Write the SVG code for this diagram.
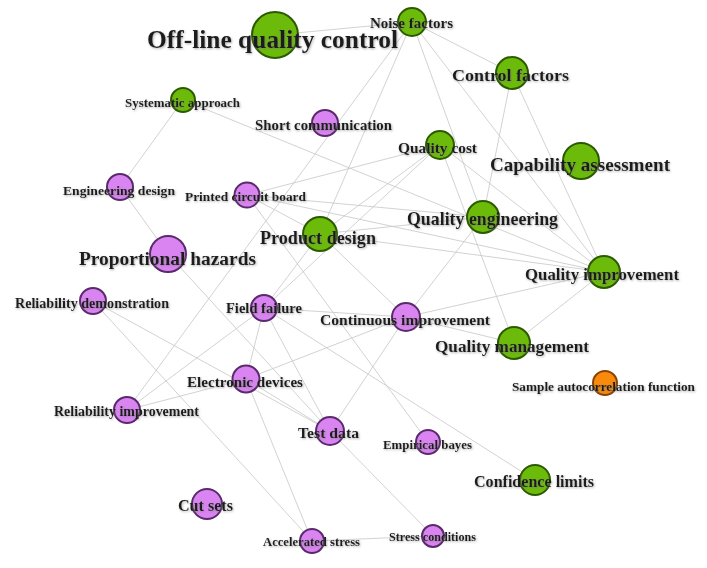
<svg xmlns="http://www.w3.org/2000/svg" width="707" height="568" viewBox="0 0 707 568">
<defs>
<filter id="sh" x="-10%" y="-30%" width="120%" height="160%">
<feDropShadow dx="0.8" dy="1" stdDeviation="0.9" flood-color="#777" flood-opacity="0.6"/>
</filter>
<style>
.e{stroke:#c6c6c6;stroke-width:0.8;fill:none}
.g{fill:#6cbb0a;stroke:#2c5a00;stroke-width:2}
.p{fill:#da84f2;stroke:#5a2a6c;stroke-width:2}
.o{fill:#f98a0c;stroke:#8a4200;stroke-width:2}
text{font-family:"Liberation Serif","Times New Roman",serif;font-weight:bold;fill:#1e1e1e;filter:url(#sh)}
</style>
</defs>
<rect width="707" height="568" fill="#fff"/>
<g id="edges">
<line class="e" x1="275" y1="35" x2="412" y2="22"/>
<line class="e" x1="412" y1="22" x2="512" y2="73"/>
<line class="e" x1="412" y1="22" x2="604" y2="272"/>
<line class="e" x1="412" y1="22" x2="483" y2="217"/>
<line class="e" x1="412" y1="22" x2="320" y2="234"/>
<line class="e" x1="412" y1="22" x2="127" y2="410"/>
<line class="e" x1="512" y1="73" x2="483" y2="217"/>
<line class="e" x1="512" y1="73" x2="604" y2="272"/>
<line class="e" x1="440" y1="145" x2="604" y2="272"/>
<line class="e" x1="440" y1="145" x2="514" y2="343"/>
<line class="e" x1="440" y1="145" x2="247" y2="195"/>
<line class="e" x1="440" y1="145" x2="320" y2="234"/>
<line class="e" x1="440" y1="145" x2="264" y2="308"/>
<line class="e" x1="183" y1="100" x2="120" y2="187"/>
<line class="e" x1="183" y1="100" x2="604" y2="272"/>
<line class="e" x1="120" y1="187" x2="168" y2="254"/>
<line class="e" x1="247" y1="195" x2="483" y2="217"/>
<line class="e" x1="247" y1="195" x2="604" y2="272"/>
<line class="e" x1="247" y1="195" x2="320" y2="234"/>
<line class="e" x1="247" y1="195" x2="428" y2="442"/>
<line class="e" x1="320" y1="234" x2="483" y2="217"/>
<line class="e" x1="320" y1="234" x2="604" y2="272"/>
<line class="e" x1="320" y1="234" x2="406" y2="317"/>
<line class="e" x1="320" y1="234" x2="264" y2="308"/>
<line class="e" x1="406" y1="317" x2="483" y2="217"/>
<line class="e" x1="406" y1="317" x2="604" y2="272"/>
<line class="e" x1="406" y1="317" x2="514" y2="343"/>
<line class="e" x1="406" y1="317" x2="264" y2="308"/>
<line class="e" x1="406" y1="317" x2="246" y2="379"/>
<line class="e" x1="406" y1="317" x2="330" y2="431"/>
<line class="e" x1="604" y1="272" x2="514" y2="343"/>
<line class="e" x1="264" y1="308" x2="246" y2="379"/>
<line class="e" x1="264" y1="308" x2="330" y2="431"/>
<line class="e" x1="264" y1="308" x2="535" y2="480"/>
<line class="e" x1="264" y1="308" x2="127" y2="410"/>
<line class="e" x1="127" y1="410" x2="246" y2="379"/>
<line class="e" x1="93" y1="301" x2="330" y2="431"/>
<line class="e" x1="93" y1="301" x2="312" y2="541"/>
<line class="e" x1="168" y1="254" x2="330" y2="431"/>
<line class="e" x1="246" y1="379" x2="330" y2="431"/>
<line class="e" x1="246" y1="379" x2="312" y2="541"/>
<line class="e" x1="330" y1="431" x2="433" y2="536"/>
<line class="e" x1="312" y1="541" x2="433" y2="536"/>
</g>
<g id="n-offline"><circle class="g" cx="275" cy="35" r="23"/><text x="147" y="48" font-size="25" textLength="251" lengthAdjust="spacingAndGlyphs">Off-line quality control</text></g>
<g id="n-noise"><circle class="g" cx="412" cy="22" r="14"/><text x="370" y="28" font-size="15" textLength="83" lengthAdjust="spacingAndGlyphs">Noise factors</text></g>
<g id="n-control"><circle class="g" cx="512" cy="73" r="16"/><text x="452" y="81" font-size="17.5" textLength="117" lengthAdjust="spacingAndGlyphs">Control factors</text></g>
<g id="n-capability"><circle class="g" cx="581" cy="161" r="18"/><text x="490" y="171" font-size="19" textLength="180" lengthAdjust="spacingAndGlyphs">Capability assessment</text></g>
<g id="n-systematic"><circle class="g" cx="183" cy="100" r="12"/><text x="125" y="107" font-size="13" textLength="115" lengthAdjust="spacingAndGlyphs">Systematic approach</text></g>
<g id="n-short"><circle class="p" cx="325" cy="123" r="13"/><text x="255" y="130" font-size="14.5" textLength="137" lengthAdjust="spacingAndGlyphs">Short communication</text></g>
<g id="n-qcost"><circle class="g" cx="440" cy="145" r="14"/><text x="398" y="153" font-size="15" textLength="79" lengthAdjust="spacingAndGlyphs">Quality cost</text></g>
<g id="n-engdesign"><circle class="p" cx="120" cy="187" r="13"/><text x="63" y="195" font-size="13.5" textLength="112" lengthAdjust="spacingAndGlyphs">Engineering design</text></g>
<g id="n-pcb"><circle class="p" cx="247" cy="195" r="12.5"/><text x="185" y="201" font-size="13.3" textLength="121" lengthAdjust="spacingAndGlyphs">Printed circuit board</text></g>
<g id="n-product"><circle class="g" cx="320" cy="234" r="17"/><text x="260" y="244" font-size="18" textLength="116" lengthAdjust="spacingAndGlyphs">Product design</text></g>
<g id="n-qeng"><circle class="g" cx="483" cy="217" r="16"/><text x="407" y="225" font-size="17.8" textLength="151" lengthAdjust="spacingAndGlyphs">Quality engineering</text></g>
<g id="n-prop"><circle class="p" cx="168" cy="254" r="18"/><text x="79" y="265" font-size="19.4" textLength="177" lengthAdjust="spacingAndGlyphs">Proportional hazards</text></g>
<g id="n-qimp"><circle class="g" cx="604" cy="272" r="16"/><text x="525" y="280" font-size="16.7" textLength="154" lengthAdjust="spacingAndGlyphs">Quality improvement</text></g>
<g id="n-reldemo"><circle class="p" cx="93" cy="301" r="13"/><text x="15" y="308" font-size="14" textLength="154" lengthAdjust="spacingAndGlyphs">Reliability demonstration</text></g>
<g id="n-field"><circle class="p" cx="264" cy="308" r="13"/><text x="226" y="313" font-size="14.5" textLength="76" lengthAdjust="spacingAndGlyphs">Field failure</text></g>
<g id="n-contimp"><circle class="p" cx="406" cy="317" r="14"/><text x="320" y="325" font-size="15.6" textLength="170" lengthAdjust="spacingAndGlyphs">Continuous improvement</text></g>
<g id="n-qman"><circle class="g" cx="514" cy="343" r="16"/><text x="435" y="352" font-size="17.2" textLength="154" lengthAdjust="spacingAndGlyphs">Quality management</text></g>
<g id="n-sample"><circle class="o" cx="605" cy="383" r="12"/><text x="512" y="391" font-size="12.8" textLength="183" lengthAdjust="spacingAndGlyphs">Sample autocorrelation function</text></g>
<g id="n-electronic"><circle class="p" cx="246" cy="379" r="13.5"/><text x="187" y="387" font-size="15" textLength="116" lengthAdjust="spacingAndGlyphs">Electronic devices</text></g>
<g id="n-relimp"><circle class="p" cx="127" cy="410" r="13"/><text x="54" y="416" font-size="13.9" textLength="145" lengthAdjust="spacingAndGlyphs">Reliability improvement</text></g>
<g id="n-test"><circle class="p" cx="330" cy="431" r="14"/><text x="298" y="438" font-size="15.4" textLength="61" lengthAdjust="spacingAndGlyphs">Test data</text></g>
<g id="n-empirical"><circle class="p" cx="428" cy="442" r="12"/><text x="383" y="449" font-size="12.9" textLength="89" lengthAdjust="spacingAndGlyphs">Empirical bayes</text></g>
<g id="n-confidence"><circle class="g" cx="535" cy="480" r="15"/><text x="474" y="487" font-size="16" textLength="120" lengthAdjust="spacingAndGlyphs">Confidence limits</text></g>
<g id="n-cutsets"><circle class="p" cx="207" cy="504" r="15"/><text x="178" y="511" font-size="16" textLength="55" lengthAdjust="spacingAndGlyphs">Cut sets</text></g>
<g id="n-accel"><circle class="p" cx="312" cy="541" r="12"/><text x="263" y="546" font-size="12.6" textLength="97" lengthAdjust="spacingAndGlyphs">Accelerated stress</text></g>
<g id="n-stresscond"><circle class="p" cx="433" cy="536" r="11"/><text x="389" y="541" font-size="12.2" textLength="87" lengthAdjust="spacingAndGlyphs">Stress conditions</text></g>
</svg>
